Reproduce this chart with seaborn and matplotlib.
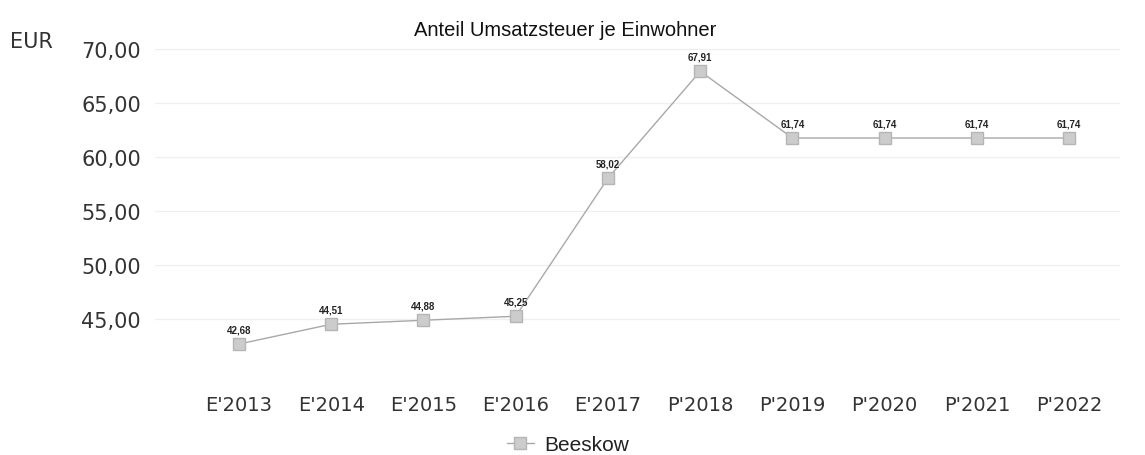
import numpy as np
import pandas as pd
import matplotlib
matplotlib.use('Agg')
import matplotlib.pyplot as plt
import seaborn as sns

# data
jahre = ["E'2013", "E'2014", "E'2015", "E'2016", "E'2017",
         "P'2018", "P'2019", "P'2020", "P'2021", "P'2022"]
beeskow = [42.68, 44.51, 44.88, 45.25, 58.02, 67.91, 61.74, 61.74, 61.74, 61.74]
yticks = [45, 50, 55, 60, 65, 70]

df = pd.DataFrame({'Jahr': jahre, 'Wert': beeskow, 'Gemeinde': 'Beeskow'})
df['pos'] = np.arange(len(jahre))

sns.set_style('white')
plt.rcParams['font.family'] = ['DejaVu Sans']

fig = plt.figure(figsize=(11.45, 4.56), dpi=100)
ax = fig.add_axes([155/1145, 1-374/456, (1120-155)/1145, (374-40)/456])

sns.lineplot(data=df, x='pos', y='Wert', hue='Gemeinde', palette=['#a8a8a8'],
             marker='s', markersize=8.5, markerfacecolor='#cccccc',
             markeredgecolor='#b5b5b5', markeredgewidth=1, linewidth=1.0, ax=ax)

# value labels
for x, y in zip(df['pos'], df['Wert']):
    ax.annotate(f'{y:.2f}'.replace('.', ','), (x, y), xytext=(0, 7),
                textcoords='offset points', ha='center', va='bottom',
                fontsize=7, fontweight='bold', color='#222222',
                family='Liberation Sans')

ax.set_xlim(-0.91, 9.55)
ax.set_ylim(40, 70.9)
ax.set_xticks(df['pos'])
ax.set_xticklabels(jahre)
ax.set_yticks(yticks)
ax.set_yticklabels([f'{v:.2f}'.replace('.', ',') for v in yticks])
ax.tick_params(axis='y', length=0, pad=10, labelsize=15, labelcolor='#333333')
ax.tick_params(axis='x', length=0, pad=16, labelsize=14, labelcolor='#333333')
ax.set_xlabel('')
ax.set_ylabel('')
ax.grid(axis='y', color='#f0f0f0', linewidth=1)
for s in ax.spines.values():
    s.set_visible(False)

fig.text(565/1145, 1-30/456, 'Anteil Umsatzsteuer je Einwohner', ha='center',
         va='center', fontsize=14.5, family='Liberation Sans', color='#111111')
fig.text(10/1145, 1-42/456, 'EUR', ha='left', va='center', fontsize=15,
         color='#333333')

ax.get_legend().remove()
h, l = ax.get_legend_handles_labels()
fig.legend(h, l, loc='center', bbox_to_anchor=(568/1145, 1-446/456), frameon=False,
           prop={'family': 'Liberation Sans', 'size': 15}, handlelength=1.3,
           handletextpad=0.5, labelcolor='#222222')

fig.savefig('out.png', dpi=100)
